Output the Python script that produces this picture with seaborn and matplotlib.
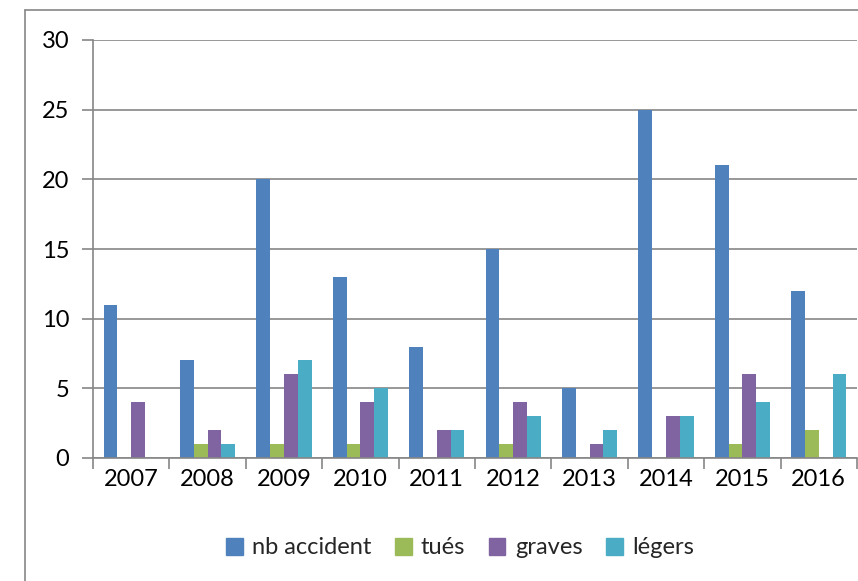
import matplotlib
matplotlib.use("Agg")
import matplotlib.pyplot as plt
from matplotlib.lines import Line2D
from matplotlib.ticker import FixedLocator, NullFormatter
import seaborn as sns
import pandas as pd

years = ["2007", "2008", "2009", "2010", "2011", "2012", "2013", "2014", "2015", "2016"]
nb_accident = [11, 7, 20, 13, 8, 15, 5, 25, 21, 12]
tues = [0, 1, 1, 1, 0, 1, 0, 0, 1, 2]
graves = [4, 2, 6, 4, 2, 4, 1, 3, 6, 0]
legers = [0, 1, 7, 5, 2, 3, 2, 3, 4, 6]
series_names = ["nb accident", "tués", "graves", "légers"]
colors = ["#4F81BD", "#9BBB59", "#8064A2", "#4BACC6"]

rows = []
for name, vals in zip(series_names, [nb_accident, tues, graves, legers]):
    for y, v in zip(years, vals):
        rows.append({"year": y, "serie": name, "value": v})
df = pd.DataFrame(rows)

sns.set_theme(style="white")
plt.rcParams["font.family"] = ["Lato", "DejaVu Sans"]

fig = plt.figure(figsize=(8.58, 5.81), dpi=100)
ax = fig.add_axes([93/858, 1-458/581, (857-93)/858, (458-40)/581])

sns.barplot(data=df, x="year", y="value", hue="serie", order=years,
            hue_order=series_names, palette=colors, width=0.72, gap=0,
            linewidth=0, saturation=1, ax=ax, legend=True)

gridc = "#868686"
fs = 17
ax.set_xlim(-0.5, 9.5)
ax.set_ylim(0, 30)
ax.set_yticks([0, 5, 10, 15, 20, 25, 30])
ax.yaxis.grid(True, color=gridc, linewidth=1.2)
ax.set_axisbelow(True)
ax.set_xlabel("")
ax.set_ylabel("")
for s in ["top", "right"]:
    ax.spines[s].set_visible(False)
for s in ["left", "bottom"]:
    ax.spines[s].set_color(gridc)
    ax.spines[s].set_linewidth(1.2)

ax.tick_params(axis="y", which="major", length=8, width=1.2, color=gridc,
               labelsize=fs, labelcolor="black", pad=9, left=True)
ax.tick_params(axis="x", which="major", length=0, labelsize=fs,
               labelcolor="black", pad=8)
ax.xaxis.set_minor_locator(FixedLocator([i - 0.5 for i in range(11)]))
ax.xaxis.set_minor_formatter(NullFormatter())
ax.tick_params(axis="x", which="minor", length=8, width=1.2, color=gridc, bottom=True)

leg = ax.get_legend()
if leg is not None:
    leg.remove()
handles = [plt.Rectangle((0, 0), 1, 1, color=c) for c in colors]
fig.legend(handles, series_names, loc="center", bbox_to_anchor=(460/858, 1-548/581),
           ncol=4, frameon=False, fontsize=fs, handlelength=0.7, handleheight=0.7,
           handletextpad=0.4, columnspacing=1.0)

# outer chart border (cut by image edge)
fig.add_artist(Line2D([25/858, 25/858], [0, 1-10/581], transform=fig.transFigure,
                      color=gridc, linewidth=1.2))
fig.add_artist(Line2D([25/858, 1], [1-10/581, 1-10/581], transform=fig.transFigure,
                      color=gridc, linewidth=1.2))

fig.savefig("out.png", dpi=100, facecolor="white")
